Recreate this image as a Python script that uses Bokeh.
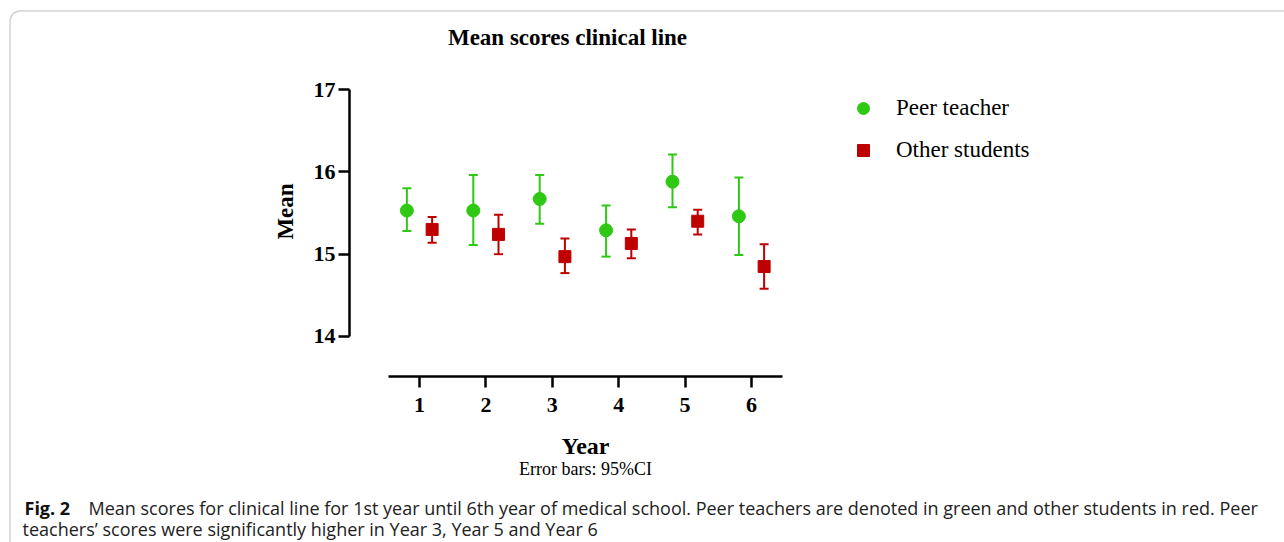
import math
from bokeh.plotting import figure
from bokeh.models import (ColumnDataSource, Whisker, TeeHead, Label, Legend, LegendItem,
                          FixedTicker, BoxAnnotation, Range1d)
from bokeh.transform import dodge
from bokeh.embed import file_html
from bokeh.resources import INLINE

# ---------------- data ----------------
years = [1, 2, 3, 4, 5, 6]
peer_mean = [15.53, 15.53, 15.67, 15.29, 15.88, 15.46]
peer_lo = [15.28, 15.11, 15.37, 14.97, 15.57, 14.99]
peer_hi = [15.80, 15.96, 15.96, 15.59, 16.21, 15.93]
other_mean = [15.30, 15.24, 14.97, 15.13, 15.40, 14.85]
other_lo = [15.14, 15.00, 14.77, 14.95, 15.24, 14.58]
other_hi = [15.45, 15.48, 15.19, 15.30, 15.54, 15.12]
x_ticks = [1, 2, 3, 4, 5, 6]
y_ticks = [14, 15, 16, 17]

title_text = "Mean scores clinical line"
x_label = "Year"
y_label = "Mean"
note_text = "Error bars: 95%CI"
series_names = ["Peer teacher", "Other students"]
cap_bold = "Fig. 2"
cap_line1 = ("Mean scores for clinical line for 1st year until 6th year of medical school. "
             "Peer teachers are denoted in green and other students in red. Peer")
cap_line2 = "teachers\u2019 scores were significantly higher in Year 3, Year 5 and Year 6"

GREEN = "#2fc814"
RED = "#bf0000"
SERIF = "Liberation Serif"
SANS = "Open Sans"

# ---------------- layout (page pixels; figure sits at page 0,0) ----------------
W, H = 1284, 542
X1_PX, XU = 419, 66.4                   # page x of x=1, px per unit
Y17_PX, YU = 89, 82.33                  # page y of y=17, px per unit
AX_X, AX_Y = 349, 376                   # y-axis line x, x-axis line y


def px2x(px):
    return 1 + (px - X1_PX) / XU


def py2y(py):
    return 17 - (py - Y17_PX) / YU


p = figure(width=W, height=H, output_backend="svg", toolbar_location=None,
           x_range=Range1d(px2x(0), px2x(W)), y_range=Range1d(py2y(H), py2y(0)),
           min_border_left=0, min_border_right=0, min_border_top=0, min_border_bottom=0)
p.outline_line_color = None
p.xgrid.visible = False
p.ygrid.visible = False
p.background_fill_color = "white"
p.border_fill_color = "white"

src = ColumnDataSource(dict(year=years, pm=peer_mean, plo=peer_lo, phi=peer_hi,
                            om=other_mean, olo=other_lo, ohi=other_hi))

OFF = 0.19
for lo, hi, off, col in [("plo", "phi", -OFF, GREEN), ("olo", "ohi", OFF, RED)]:
    w = Whisker(source=src, base=dodge("year", off), lower=lo, upper=hi,
                dimension="height", line_color=col, line_width=2,
                lower_head=TeeHead(size=9, line_color=col, line_width=2),
                upper_head=TeeHead(size=9, line_color=col, line_width=2))
    p.add_layout(w)

r_peer = p.scatter(x=dodge("year", -OFF), y="pm", source=src, marker="circle",
                   size=13, fill_color=GREEN, line_color=GREEN)
r_other = p.scatter(x=dodge("year", OFF), y="om", source=src, marker="square",
                    size=12, fill_color=RED, line_color=RED)

# ---------------- axes ----------------
for ax in (p.xaxis[0], p.yaxis[0]):
    ax.axis_line_width = 2.5
    ax.axis_line_color = "black"
    ax.major_tick_line_width = 2.5
    ax.major_tick_line_color = "black"
    ax.major_tick_out = 11
    ax.major_tick_in = 0
    ax.minor_tick_line_color = None
    ax.major_label_text_font = SERIF
    ax.major_label_text_font_style = "bold"
    ax.major_label_text_font_size = "22px"
    ax.major_label_text_color = "black"

p.xaxis.ticker = FixedTicker(ticks=x_ticks)
p.xaxis.bounds = (px2x(388), px2x(782))
p.xaxis.fixed_location = py2y(AX_Y)
p.xaxis.major_label_standoff = 10

p.yaxis.ticker = FixedTicker(ticks=y_ticks)
p.yaxis.bounds = (14, 17)
p.yaxis.fixed_location = px2x(AX_X)
p.yaxis.major_label_standoff = 3

# ---------------- legend ----------------
legend = Legend(items=[LegendItem(label=series_names[0], renderers=[r_peer]),
                       LegendItem(label=series_names[1], renderers=[r_other])],
                location=(848, H - 165), orientation="vertical",
                glyph_width=30, glyph_height=30, label_height=30, spacing=12,
                label_standoff=18, padding=0, margin=0,
                border_line_color=None, background_fill_alpha=0,
                label_text_font=SERIF, label_text_font_size="23px",
                label_text_color="black")
p.add_layout(legend)

# ---------------- texts ----------------
p.add_layout(Label(x=px2x(567), y=py2y(37), text=title_text, text_align="center",
                   text_baseline="middle", text_font=SERIF, text_font_style="bold",
                   text_font_size="23px", text_color="black"))
p.add_layout(Label(x=px2x(285), y=py2y(211), text=y_label, text_align="center",
                   text_baseline="middle", angle=math.pi / 2, text_font=SERIF,
                   text_font_style="bold", text_font_size="23px", text_color="black"))
p.add_layout(Label(x=px2x(585), y=py2y(445), text=x_label, text_align="center",
                   text_baseline="middle", text_font=SERIF, text_font_style="bold",
                   text_font_size="24px", text_color="black"))
p.add_layout(Label(x=px2x(585), y=py2y(468), text=note_text, text_align="center",
                   text_baseline="middle", text_font=SERIF,
                   text_font_size="18px", text_color="black"))
p.add_layout(Label(x=px2x(24), y=py2y(507), text=cap_bold, text_align="left",
                   text_baseline="alphabetic", text_font=SANS, text_font_style="bold",
                   text_font_size="18px", text_color="#111111"))
p.add_layout(Label(x=px2x(88), y=py2y(507), text=cap_line1, text_align="left",
                   text_baseline="alphabetic", text_font=SANS,
                   text_font_size="18px", text_color="#222222"))
p.add_layout(Label(x=px2x(22), y=py2y(528), text=cap_line2, text_align="left",
                   text_baseline="alphabetic", text_font=SANS,
                   text_font_size="18px", text_color="#222222"))

# rounded border around the figure panel
p.add_layout(BoxAnnotation(left=px2x(9.5), right=px2x(1400), top=py2y(10.5), bottom=py2y(700),
                           fill_alpha=0, line_color="#6e6e6e", line_width=1.5,
                           border_radius=10, level="underlay"))

open("out.html", "w").write(file_html(p, INLINE))
